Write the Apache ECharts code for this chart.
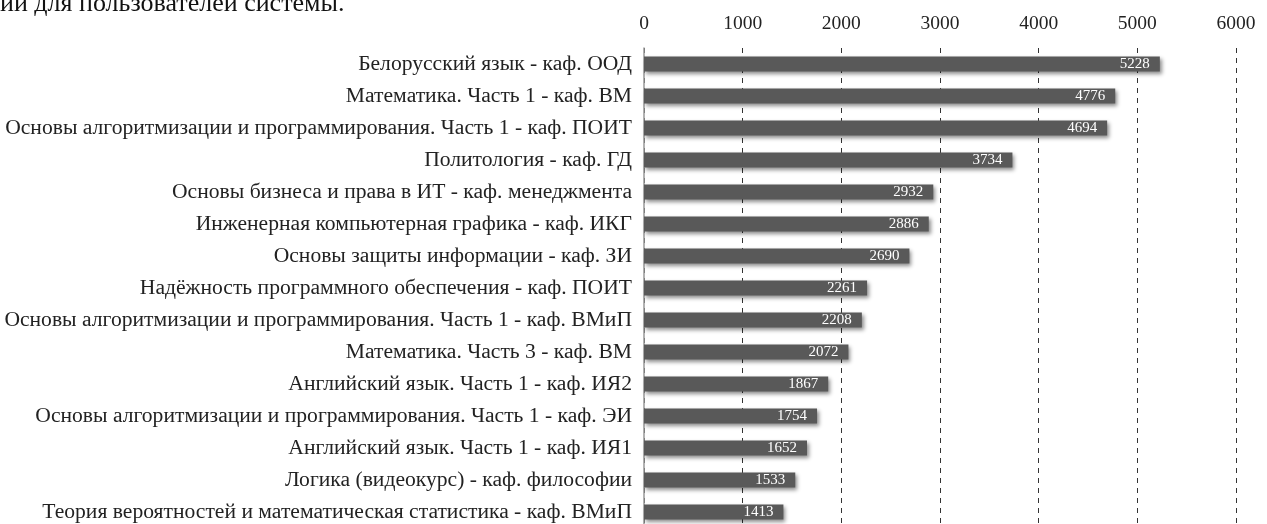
<!DOCTYPE html>
<html>
<head>
<meta charset="utf-8">
<script src="https://cdn.jsdelivr.net/npm/echarts@6/dist/echarts.min.js"></script>
<style>
html,body{margin:0;padding:0;background:#fff;overflow:hidden;width:1267px;height:524px;}
#chart{width:1267px;height:540px;}
</style>
</head>
<body>
<div id="chart"></div>
<script>
const categories = [
  "Белорусский язык - каф. ООД",
  "Математика. Часть 1 - каф. ВМ",
  "Основы алгоритмизации и программирования. Часть 1 - каф. ПОИТ",
  "Политология - каф. ГД",
  "Основы бизнеса и права в ИТ - каф. менеджмента",
  "Инженерная компьютерная графика - каф. ИКГ",
  "Основы защиты информации - каф. ЗИ",
  "Надёжность программного обеспечения - каф. ПОИТ",
  "Основы алгоритмизации и программирования. Часть 1 - каф. ВМиП",
  "Математика. Часть 3 - каф. ВМ",
  "Английский язык. Часть 1 - каф. ИЯ2",
  "Основы алгоритмизации и программирования. Часть 1 - каф. ЭИ",
  "Английский язык. Часть 1 - каф. ИЯ1",
  "Логика (видеокурс) - каф. философии",
  "Теория вероятностей и математическая статистика - каф. ВМиП"
];
const values = [5228, 4776, 4694, 3734, 2932, 2886, 2690, 2261, 2208, 2072, 1867, 1754, 1652, 1533, 1413];
const axisMin = 0, axisMax = 6000, axisStep = 1000;
const captionText = "ий для пользователей системы.";

const serif = '"Liberation Serif", "DejaVu Serif", serif';
const chart = echarts.init(document.getElementById('chart'), null, {renderer: 'canvas'});
chart.setOption({
  animation: false,
  backgroundColor: '#ffffff',
  graphic: [{
    type: 'text', left: 0, top: -9,
    style: {text: captionText, font: '26px ' + serif, fill: '#111'}
  }],
  grid: {left: 644, right: 31, top: 48, bottom: 12, containLabel: false},
  xAxis: {
    type: 'value', position: 'top', min: axisMin, max: axisMax, interval: axisStep,
    axisLine: {show: false}, axisTick: {show: false},
    axisLabel: {fontFamily: serif, fontSize: 19.5, color: '#222', margin: 14, formatter: v => String(v)},
    splitLine: {show: true, lineStyle: {type: [5, 5], color: '#333', width: 1}}
  },
  yAxis: {
    type: 'category', data: categories, inverse: true,
    axisLine: {show: true, lineStyle: {color: '#999', width: 1.5}},
    axisTick: {show: false},
    axisLabel: {fontFamily: serif, fontSize: 21.6, color: '#222', margin: 12}
  },
  series: [{
    type: 'bar', data: values, barWidth: 15,
    itemStyle: {color: '#595959', shadowColor: 'rgba(0,0,0,0.45)', shadowBlur: 4, shadowOffsetX: 2, shadowOffsetY: 2},
    label: {show: true, position: 'insideRight', distance: 10, color: '#fff', fontFamily: serif, fontSize: 15}
  }]
});
</script>
</body>
</html>
